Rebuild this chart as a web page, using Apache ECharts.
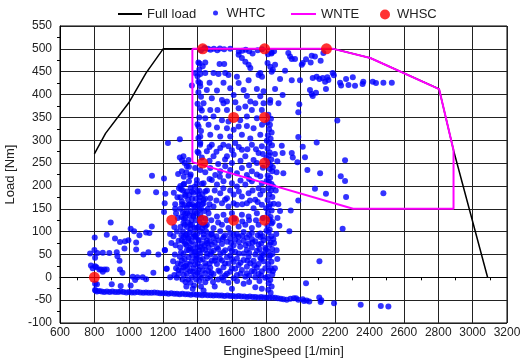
<!DOCTYPE html>
<html><head><meta charset="utf-8">
<script src="https://cdn.jsdelivr.net/npm/echarts@6/dist/echarts.min.js"></script>
<style>html,body{margin:0;padding:0;background:#fff}#c{width:526px;height:360px}</style>
</head><body><div id="c"></div>
<script>
// ---- data ----
const fullLoadSpeed = [800, 865, 1000, 1100, 1200, 1370, 2190, 2405, 2805, 2889, 3087];
const fullLoadTorque = [270, 315, 382, 447, 500, 500, 500, 480, 412, 278, 0];

const wnteSpeed = [1370, 2190, 2405, 2805, 2889, 2889, 2305, 1370, 1370];
const wnteTorque = [500, 500, 480, 412, 278, 150, 150, 252, 500];

const whscSpeed = [800, 1250, 1430, 1610, 1790, 1430, 1790, 1610, 1790, 1430, 1790, 2150];
const whscTorque = [0, 125, 125, 125, 125, 250, 250, 350, 350, 500, 500, 500];

const whtcBottom = [[806,-29],[815,-31],[828,-30],[842,-31],[857,-32],[873,-31],[889,-32],[905,-31],[921,-32],[938,-32],[953,-31],[969,-32],[986,-33],[1002,-32],[1018,-33],[1034,-33],[1051,-32],[1067,-33],[1084,-34],[1100,-33],[1116,-34],[1133,-34],[1149,-33],[1166,-34],[1182,-35],[1198,-35],[1215,-35],[1231,-36],[1247,-35],[1264,-36],[1280,-36],[1296,-37],[1312,-36],[1329,-37],[1345,-37],[1361,-38],[1378,-37],[1394,-38],[1410,-38],[1427,-39],[1443,-38],[1459,-39],[1476,-39],[1492,-40],[1508,-39],[1525,-40],[1541,-40],[1557,-41],[1574,-40],[1590,-41],[1606,-41],[1623,-42],[1639,-41],[1655,-42],[1672,-42],[1688,-43],[1704,-42],[1721,-43],[1737,-43],[1753,-44],[1770,-43],[1786,-44],[1802,-44],[1818,-45],[1835,-44],[1851,-45],[1867,-46],[1884,-47],[1900,-48],[1919,-49],[1940,-47],[1960,-46],[1973,-46],[1986,-49],[2012,-48],[2019,-52],[2035,-51],[2050,-53],[2108,-44],[2116,-54],[2120,-50],[2194,-57],[2349,-60],[2466,-63],[2510,-64]];

const whtcLeft = [[1052,188],[1159,186],[1213,183],[895,120],[1011,106],[1031,101],[1134,111],[1101,98],[1120,97],[1205,143],[872,93],[920,85],[949,77],[978,79],[998,81],[1043,76],[1062,92],[802,87],[975,63],[1043,61],[775,52],[817,53],[849,54],[887,53],[930,55],[934,46],[804,43],[946,36],[1085,50],[1114,55],[1172,50],[1211,59],[780,26],[804,24],[829,17],[872,17],[849,12],[949,17],[963,10],[1143,10],[1023,1],[1050,0],[1081,0],[1101,-4],[1037,-6],[804,-14],[901,-15],[953,-19],[1011,-18],[804,-28],[1221,19],[1241,0],[800,60],[815,-15],[790,20],[812,22],[840,17],[858,17],[1135,222],[1205,216],[1209,162],[1209,60],[1219,19],[1248,75],[1240,95],[1228,294]];

const whtcEdge = [[1262,185],[1270,160],[1275,140],[1265,110],[1260,90],[1272,70],[1268,50],[1258,35],[1275,20],[1265,5],[1279,-1],[1289,7],[1289,16],[1297,302],[1297,262],[1310,256],[1325,250],[1287,226],[1350,242],[1335,230],[1360,225],[1318,265],[1348,257],[1338,243],[1309,232],[1357,221],[1318,203],[1328,181],[1309,166],[1348,159],[1328,140],[1318,119],[1338,94],[1285,130],[1280,100],[1290,80],[1270,150],[1292,195],[1283,175],[1297,45],[1285,30]];

const whtcCore = [[1300,200],[1315,190],[1330,178],[1345,170],[1360,196],[1375,185],[1390,172],[1405,160],[1420,150],[1300,150],[1315,142],[1330,130],[1345,120],[1360,145],[1375,135],[1390,125],[1405,110],[1420,100],[1300,110],[1315,100],[1330,92],[1345,85],[1360,105],[1375,95],[1390,88],[1405,80],[1420,130],[1435,115],[1435,170],[1440,145],[1450,100],[1455,190],[1300,175],[1310,160],[1325,115],[1340,140],[1355,160],[1365,125],[1380,155],[1395,140],[1410,190],[1415,175],[1425,205],[1395,205],[1350,210],[1320,220],[1367,188],[1386,155],[1377,133],[1416,137],[1357,115],[1396,108],[1386,91],[1435,94],[1406,181],[1445,188],[1435,162],[1396,213],[1435,206],[1386,239],[1416,235],
[1318,88],[1348,86],[1377,89],[1435,87],[1464,90],[1493,86],[1551,88],[1590,85],[1639,89],[1687,87],[1716,84],[1765,88],
[1309,81],[1367,79],[1406,82],[1454,80],[1522,81],[1571,78],[1619,82],[1668,80],[1736,79],[1784,81],
[1328,73],[1386,71],[1425,74],[1483,72],[1542,73],[1610,70],[1697,74],[1755,72],
[1299,66],[1357,64],[1416,67],[1464,65],[1513,66],[1590,63],[1648,67],[1716,65],[1794,64],
[1338,59],[1386,57],[1445,60],[1493,58],[1561,59],[1619,56],[1687,60],[1745,58],
[1318,51],[1367,49],[1416,52],[1474,50],[1532,51],[1590,48],[1668,52],[1736,50],[1784,49],
[1348,44],[1396,42],[1454,45],[1503,43],[1571,44],[1629,41],[1697,45],[1765,43],
[1309,37],[1367,35],[1416,38],[1483,36],[1542,37],[1610,34],[1668,38],[1726,36],[1784,35],
[1338,30],[1386,28],[1445,31],[1513,29],[1580,30],[1639,27],[1707,31],[1755,29],
[1318,22],[1377,20],[1416,23],[1474,21],[1551,22],[1619,19],[1687,23],[1745,21],[1794,20],
[1309,15],[1357,13],[1406,16],[1464,14],[1522,15],[1590,12],[1658,16],[1716,14],[1774,13],
[1338,8],[1386,6],[1445,9],[1493,7],[1571,8],[1629,5],[1687,9],[1755,7],
[1367,0],[1425,-1],[1474,1],[1542,0],[1610,-2],[1678,1],[1736,0],[1794,-1],
[1435,-29],[1445,-11],[1551,-7],[1668,-14],[1736,-22],[1774,-25],[1330,-10],[1380,-18],[1500,-20],[1600,-25],
[1330,25],[1350,60],[1395,48],[1430,40],[1320,5],[1400,10],[1345,-5],[1410,-8]];

const whtcFill = [[1305,192],[1322,205],[1338,188],[1352,180],[1368,172],[1383,198],[1398,188],[1412,168],[1428,182],[1445,172],
[1307,132],[1323,158],[1337,152],[1352,135],[1369,160],[1384,143],[1399,158],[1413,148],[1428,160],[1447,128],
[1306,92],[1321,128],[1339,110],[1353,98],[1368,115],[1383,108],[1398,95],[1413,120],[1428,108],[1446,112],
[1304,55],[1322,78],[1336,70],[1355,75],[1366,62],[1381,55],[1399,66],[1411,58],[1429,62],[1442,70],
[1303,28],[1324,40],[1341,18],[1356,28],[1372,12],[1388,40],[1401,30],[1414,4],[1431,15],[1448,24],
[1312,-5],[1335,-20],[1359,-12],[1372,-25],[1392,-5],[1420,-20],[1458,-2],[1456,52],[1460,150],[1455,75],
[1480,94],[1510,90],[1560,92],[1610,93],[1660,91],[1700,93],[1750,92],[1780,90],
[1470,78],[1500,76],[1545,84],[1595,75],[1640,77],[1680,70],[1720,76],[1770,74],
[1480,55],[1520,62],[1550,55],[1600,58],[1640,52],[1700,54],[1760,62],[1775,52],
[1470,30],[1500,36],[1530,40],[1560,30],[1600,40],[1650,32],[1690,36],[1730,26],[1770,40],
[1480,10],[1530,12],[1560,4],[1600,20],[1650,8],[1700,4],[1730,12],[1770,4],
[1490,-10],[1520,-5],[1580,-12],[1630,-8],[1700,-10],[1760,-8],
[1470,285],[1510,275],[1550,290],[1600,278],[1640,285],[1690,280],[1740,280],[1780,270],
[1470,255],[1520,248],[1560,258],[1600,250],[1650,255],[1700,245],[1745,250],[1780,240],
[1470,215],[1530,220],[1580,222],[1650,212],[1700,215],[1745,225],
[1500,190],[1550,195],[1590,190],[1640,188],[1720,190],[1780,190],
[1470,160],[1510,168],[1560,170],[1610,162],[1660,160],[1705,168],[1750,165],
[1480,125],[1520,120],[1570,125],[1615,128],[1660,122],[1700,125],[1740,125],[1780,130]];

const whtcMid = [[1416,294],[1483,290],[1532,283],[1580,287],[1619,294],[1658,279],[1716,290],[1755,272],[1774,287],
[1406,272],[1454,276],[1493,265],[1571,265],[1610,268],[1678,265],[1726,257],
[1445,230],[1474,239],[1503,224],[1532,232],[1561,243],[1590,235],[1629,228],[1658,239],[1687,224],[1716,232],[1765,221],
[1483,213],[1513,203],[1551,210],[1600,206],[1629,199],[1678,203],[1716,210],[1755,195],[1774,206],
[1474,173],[1532,184],[1571,173],[1610,181],[1658,177],[1697,184],[1736,170],[1765,181],
[1493,155],[1542,162],[1580,155],[1629,159],[1687,162],[1726,151],[1774,159],
[1464,140],[1513,133],[1551,137],[1600,140],[1658,137],[1697,133],[1745,140],
[1454,115],[1493,108],[1542,115],[1580,108],[1639,111],[1678,115],[1716,108],[1755,115],
[1483,96],[1532,101],[1590,97],[1629,94],[1668,99],[1716,97],[1765,96]];

const whtcUpper = [[1420,497],[1440,502],[1460,500],[1475,498],[1495,500],[1515,497],[1530,501],[1555,499],[1590,500],[1640,494],[1660,496],[1680,498],[1700,495],[1720,490],[1750,497],[1775,499],[1810,488],[1830,490],[1845,495],
[1412,468],[1430,462],[1445,470],[1528,467],[1555,467],[1639,487],[1658,480],[1678,472],[1697,465],[1707,458],[1765,447],[1775,439],[1755,443],[1807,469],[1823,461],[1838,454],[1386,447],[1416,445],[1445,447],[1493,447],[1522,445],[1561,447],[1580,443],[1629,439],[1405,428],[1470,426],[1551,426],[1639,425],[1697,431],[1367,420],[1416,418],[1454,410],[1513,409],[1590,414],[1668,410],[1745,412],[1784,407],[1483,392],[1542,388],[1551,381],[1571,385],[1610,399],[1620,383],[1687,397],[1707,385],[1736,381],[1765,396],[1784,381],[1823,388],[1435,381],[1416,370],[1474,366],[1516,366],[1571,366],[1639,370],[1678,374],[1716,366],[1774,366],[1445,348],[1493,352],[1542,344],[1580,341],[1648,344],[1687,352],[1745,348],[1406,330],[1464,334],[1513,328],[1571,326],[1610,323],[1639,330],[1687,331],[1726,326],[1775,334],[1416,308],[1474,312],[1532,308],[1590,308],[1658,312],[1707,304],[1765,312],
[1405,470],[1410,455],[1400,440],[1415,425],[1405,405],[1420,395],[1400,380],[1425,365],[1410,350],[1400,335],[1420,320],[1405,305],[1415,290],[1400,275],[1425,262]];

const whtcColumn = [[1812,356],[1827,347],[1806,339],[1821,334],[1816,324],[1831,317],[1809,311],[1825,303],[1818,294],[1833,289],[1807,282],[1820,273],[1815,267],[1829,258],[1811,251],[1824,246],[1819,237],[1834,232],[1808,223],[1822,218],[1814,209],[1830,204],[1812,195],[1827,190],[1817,181],[1835,176],[1807,169],[1823,160],[1816,155],[1831,146],[1809,141],[1825,132],[1818,127],[1831,118],[1807,113],[1820,104],[1813,99],[1829,90],[1811,85],[1826,76],[1819,71],[1834,62],[1808,57],[1822,48],[1816,43],[1830,34],[1810,29],[1827,20],[1817,15],[1835,6],[1807,1],[1823,-6],[1814,-13],[1831,-20],[1811,-27],[1825,-34],
[1838,241],[1840,199],[1843,161],[1837,121],[1841,84],[1836,51],[1839,14],[1803,299],[1800,261],[1802,211],[1799,151],[1801,102],[1798,61]];

const whtcRight = [[1831,492],[1851,465],[1909,452],[1831,450],[1928,491],[1938,483],[1948,478],[1967,478],[2012,469],[2006,465],[2031,477],[2058,470],[2064,485],[2083,483],[2116,474],[2132,491],
[1880,434],[1948,431],[1996,431],[2070,436],[2093,439],[2109,434],[2128,436],[2142,428],[2161,432],[2155,438],[2186,447],[2193,442],[2229,426],[2235,420],[2264,434],[2278,421],[2303,438],[2316,419],[2364,428],[2360,423],[2419,428],[2438,425],[2481,426],[2530,426],
[1851,412],[1895,399],[1822,382],[1871,381],[2054,410],[2064,401],[2070,397],[2089,404],[2147,412],
[1992,379],[1986,361],[2213,343],[1986,307],[2012,286],[2093,295],[1890,288],
[1895,272],[1948,272],[1954,262],[1981,252],[2025,263],[1864,254],[2258,256],
[1899,228],[2039,235],[2113,228],[2233,221],[2258,211],
[2083,194],[2147,183],[2264,176],[2481,184],
[1986,168],[1942,146],[2244,106],[1934,101],
[2109,35],[2031,-13],
[1850,270],[1860,230],[1855,190],[1870,160],[1865,130],[1876,113],[1858,95],[1860,59],[1864,40],[1850,20],[1845,75],[1880,145]];

const xTicks = {min: 600, max: 3200, step: 200};
const yTicks = {min: -100, max: 550, step: 50};

// ---- chart ----
const whtc = [].concat(whtcBottom, whtcLeft, whtcEdge, whtcCore, whtcFill, whtcMid, whtcUpper, whtcColumn, whtcRight);
const zip = (a, b) => a.map((v, i) => [v, b[i]]);
const font = "'Liberation Sans', Arial, sans-serif";
const txt = {fontFamily: font, fontSize: 13, color: '#222'};

const chart = echarts.init(document.getElementById('c'), null, {renderer: 'canvas'});
chart.setOption({
  animation: false,
  backgroundColor: '#fff',
  grid: {left: 60, right: 19, top: 26, bottom: 37, show: true, borderColor: '#000', borderWidth: 1,
         containLabel: false, outerBoundsMode: 'none'},
  legend: [
    {data: [{name: 'Full load', icon: 'rect'}], left: 118, top: 7.5, padding: 0, itemWidth: 24, itemHeight: 2, textStyle: txt},
    {data: [{name: 'WHTC', icon: 'circle'}], left: 213, top: 6.5, padding: 0, itemWidth: 12, itemHeight: 5, textStyle: txt},
    {data: [{name: 'WNTE', icon: 'rect'}], left: 291, top: 7.5, padding: 0, itemWidth: 25, itemHeight: 2, textStyle: txt},
    {data: [{name: 'WHSC', icon: 'circle'}], left: 380, top: 8, padding: 0, itemWidth: 14, itemHeight: 10, textStyle: txt}
  ],
  xAxis: {
    type: 'value', min: xTicks.min, max: xTicks.max, interval: xTicks.step,
    name: 'EngineSpeed [1/min]', nameLocation: 'middle', nameGap: 22,
    nameTextStyle: {fontFamily: font, fontSize: 13, color: '#222'},
    axisLine: {show: true, lineStyle: {color: '#000'}},
    axisTick: {show: false},
    minorTick: {show: true, splitNumber: 2, length: 3, lineStyle: {color: '#000'}},
    axisLabel: {fontFamily: font, fontSize: 12, color: '#222', margin: 4, formatter: v => String(v)},
    splitLine: {show: true, lineStyle: {color: '#222', width: 1}}
  },
  yAxis: {
    type: 'value', min: yTicks.min, max: yTicks.max, interval: yTicks.step,
    name: 'Load [Nm]', nameLocation: 'middle', nameGap: 42,
    nameTextStyle: {fontFamily: font, fontSize: 13, color: '#222'},
    axisLine: {show: true, lineStyle: {color: '#000'}},
    axisTick: {show: false},
    minorTick: {show: true, splitNumber: 2, length: 3, lineStyle: {color: '#000'}},
    axisLabel: {fontFamily: font, fontSize: 12, color: '#222', margin: 8, formatter: v => String(v)},
    splitLine: {show: true, lineStyle: {color: '#222', width: 1}}
  },
  series: [
    {name: 'WHTC', type: 'scatter', data: whtc, symbol: 'circle', symbolSize: 6,
     itemStyle: {color: '#0000ff'}, z: 2},
    {name: 'Full load', type: 'line', data: zip(fullLoadSpeed, fullLoadTorque), symbol: 'none',
     lineStyle: {color: '#000', width: 1.5}, itemStyle: {color: '#000'}, z: 3},
    {name: 'WNTE', type: 'line', data: zip(wnteSpeed, wnteTorque), symbol: 'none',
     lineStyle: {color: '#ff00ff', width: 2}, itemStyle: {color: '#ff00ff'}, z: 4},
    {name: 'WHSC', type: 'scatter', data: zip(whscSpeed, whscTorque), symbol: 'circle', symbolSize: 11,
     itemStyle: {color: '#ff0000'}, z: 5}
  ]
});
</script></body></html>
